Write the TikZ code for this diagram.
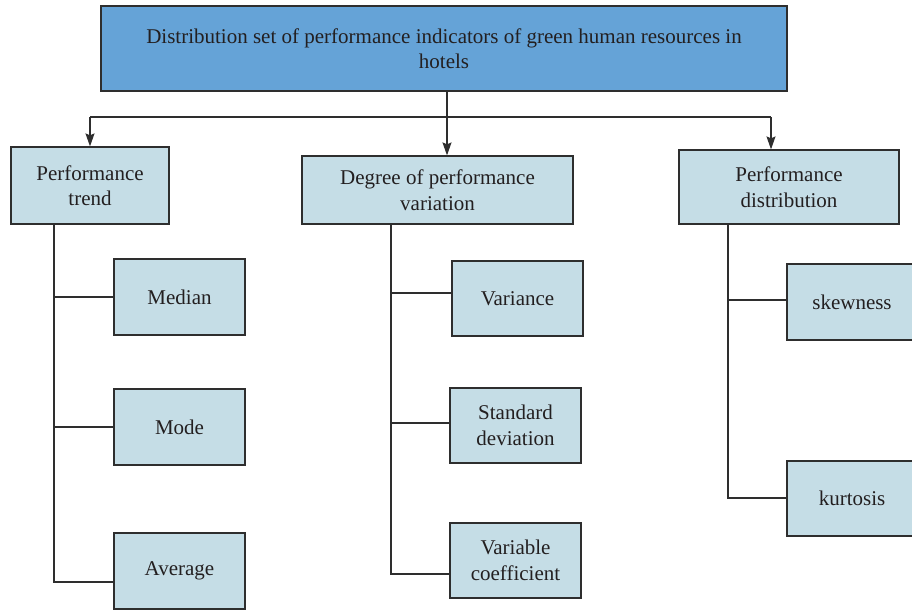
\documentclass[tikz,border=0pt]{standalone}
\usepackage{fontspec}
\setmainfont{Liberation Serif}
\usetikzlibrary{arrows.meta}
\definecolor{headblue}{HTML}{65A3D7}
\definecolor{itemblue}{HTML}{C5DDE6}
\definecolor{ink}{HTML}{2E2E2E}
\definecolor{textgray}{HTML}{231F20}
\tikzset{
  box/.style={draw=ink, line width=1.2pt, fill=itemblue, text=textgray,
    align=center, inner sep=0pt, font=\fontsize{21}{25.5}\selectfont},
  link/.style={draw=ink, line width=1.2pt},
  tip/.style={-{Stealth[length=13pt,width=9pt,inset=2pt]}}
}

\begin{document}
\begin{tikzpicture}[x=1pt,y=-1pt]
      \useasboundingbox (0,0) rectangle (912,610) ;
      % head and first level
      \node[box,fill=headblue,minimum width=686pt,minimum height=85pt] %
      (head) at (444,48.5) {Distribution set of performance indicators of green human resources in\\hotels} ;
      \node[box,minimum width=158pt,minimum height=77pt] (trend) at (90,185.5) {Performance\\trend} ;
      \node[box,minimum width=271pt,minimum height=68pt] (degree) at (437.5,190) {Degree of performance\\variation} ;
      \node[box,minimum width=220pt,minimum height=74pt] (distr) at (789,187) {Performance\\distribution} ;
      % second level
      \node[box,minimum width=131pt,minimum height=76pt] (median) at (179.5,297) {Median} ;
      \node[box,minimum width=131pt,minimum height=76pt] (mode) at (179.5,427) {Mode} ;
      \node[box,minimum width=131pt,minimum height=76pt] (average) at (179.5,571) {Average} ;
      \node[box,minimum width=131pt,minimum height=75pt] (variance) at (517.5,298.5) {Variance} ;
      \node[box,minimum width=131pt,minimum height=75pt] (stddev) at (515.5,425.5) {Standard\\deviation} ;
      \node[box,minimum width=131pt,minimum height=75pt] (varcoef) at (515.5,560.5) {Variable\\coefficient} ;
      \node[box,minimum width=130pt,minimum height=76pt] (skew) at (852,302) {skewness} ;
      \node[box,minimum width=130pt,minimum height=75pt] (kurt) at (852,498.5) {kurtosis} ;
      % arrows from the head
      \coordinate (j1) at (90,117) ;
      \coordinate (j2) at (447,117) ;
      \coordinate (j3) at (771,117) ;
      \draw[link] (j1) -- (j3) ;
      \draw[link,tip] (j2 |- head.south) -- (j2 |- degree.north) ;
      \draw[link,tip] (j1) -- (j1 |- trend.north) ;
      \draw[link,tip] (j3) -- (j3 |- distr.north) ;
      % stems and branches
      \coordinate (s1) at (54,582) ;
      \coordinate (s2) at (391,574) ;
      \coordinate (s3) at (728,498) ;
      \draw[link] (s1 |- trend.south) -- (s1) -- (s1 -| average.west) ;
      \draw[link] (s1 |- median) -- (median.west) ;
      \draw[link] (s1 |- mode) -- (mode.west) ;
      \draw[link] (s2 |- degree.south) -- (s2) -- (s2 -| varcoef.west) ;
      \draw[link] (391,293) -- (391,293 -| variance.west) ;
      \draw[link] (391,423) -- (391,423 -| stddev.west) ;
      \draw[link] (s3 |- distr.south) -- (s3) -- (s3 -| kurt.west) ;
      \draw[link] (728,300) -- (728,300 -| skew.west) ;
    \end{tikzpicture}
\end{document}
